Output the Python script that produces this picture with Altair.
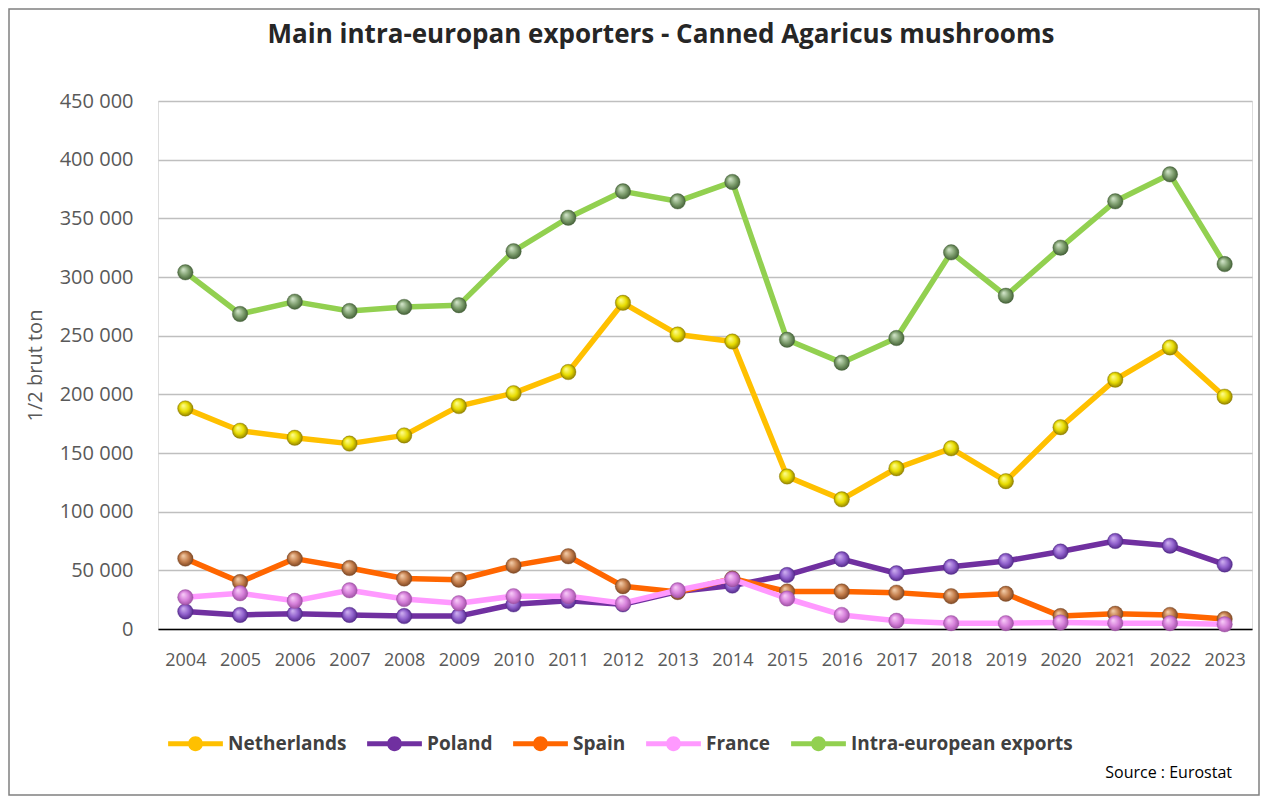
import altair as alt
import pandas as pd

years = ["2004", "2005", "2006", "2007", "2008", "2009", "2010", "2011", "2012", "2013",
         "2014", "2015", "2016", "2017", "2018", "2019", "2020", "2021", "2022", "2023"]
series_names = ["Netherlands", "Poland", "Spain", "France", "Intra-european exports"]
netherlands = [188000, 169000, 163000, 158000, 165000, 190000, 201000, 219000, 278000, 251000,
               245000, 130000, 110500, 137000, 154000, 126000, 172000, 212500, 240000, 198000]
poland = [15000, 12000, 13000, 12000, 11000, 11000, 21000, 24000, 21000, 32000,
          37000, 46000, 59500, 47500, 53000, 58000, 66000, 75000, 71000, 55000]
spain = [60000, 40000, 60000, 52000, 43000, 42000, 54000, 62000, 36500, 31500,
         43000, 32000, 32000, 31000, 28000, 30000, 11000, 13000, 12000, 8500]
france = [27000, 30500, 24000, 33000, 25500, 22000, 28000, 28000, 22000, 33000,
          42500, 26000, 12000, 7000, 5000, 5000, 5500, 5000, 5000, 4000]
intra = [304000, 268500, 279000, 271000, 274500, 276000, 322000, 350500, 373000, 364500,
         381000, 246500, 227000, 248000, 321000, 284000, 325000, 364500, 387500, 311000]
y_ticks = [0, 50000, 100000, 150000, 200000, 250000, 300000, 350000, 400000, 450000]

title_text = "Main intra-europan exporters - Canned Agaricus mushrooms"
source_text = "Source : Eurostat"

line_colors = ["#FFC000", "#7030A0", "#FF6600", "#FF99FF", "#92D050"]
marker_stops = [
    ["#FFFF9A", "#E8DC00", "#857400"],
    ["#D2B4F2", "#9060CC", "#4A2280"],
    ["#F6D2B0", "#C47E4C", "#74401E"],
    ["#FAD0FA", "#D680DA", "#964A9C"],
    ["#D8EAD0", "#7E9E6E", "#3C5830"],
]

values = [netherlands, poland, spain, france, intra]
rows = []
for name, vals in zip(series_names, values):
    for yr, v in zip(years, vals):
        rows.append({"Year": yr, "Series": name, "Value": v})
df = pd.DataFrame(rows)

W, H = 1094, 528

x_enc = alt.X("Year:O", scale=alt.Scale(type="point", padding=0.5),
              axis=alt.Axis(title=None, labelAngle=0, labelFontSize=18, labelColor="#595959",
                            labelFont="Open Sans", ticks=False, labelPadding=22,
                            domainColor="#000000", domainWidth=1.5, grid=False))
y_enc = alt.Y("Value:Q", scale=alt.Scale(domain=[0, 450000], nice=False),
              axis=alt.Axis(title="1/2 brut ton", values=y_ticks,
                            labelExpr="datum.value >= 1000 ? floor(datum.value/1000) + ' 000' : '0'",
                            labelFontSize=20, labelColor="#595959", labelFont="Open Sans",
                            labelPadding=25, ticks=False, domain=False,
                            gridColor="#BFBFBF", gridWidth=1.5,
                            titleFont="Open Sans", titleFontSize=20, titleFontWeight="normal",
                            titleColor="#595959", titlePadding=14))

legend_path = ("M-1,-0.09H1V0.09H-1Z "
               "M-0.27,0A0.27,0.27 0 1,1 0.27,0A0.27,0.27 0 1,1 -0.27,0Z")

color_scale = alt.Scale(domain=series_names, range=line_colors)

# invisible layer that only carries the legend (filled symbols)
legend_layer = alt.Chart(df).mark_point(filled=True, opacity=0, size=1).encode(
    x=x_enc, y=y_enc,
    color=alt.Color("Series:N", scale=color_scale, sort=series_names,
                    legend=alt.Legend(title=None, orient="none", direction="horizontal",
                                      legendX=10, legendY=615,
                                      symbolType=legend_path, symbolSize=3000,
                                      symbolStrokeWidth=0, symbolOpacity=1,
                                      labelFont="Open Sans", labelFontSize=19,
                                      labelFontWeight="bold", labelColor="#404040",
                                      labelOffset=5, columnPadding=20, labelLimit=400)),
)

layers = [legend_layer]
for i, name in enumerate(series_names):
    sub = alt.Chart(df).transform_filter(alt.datum.Series == name)
    line = sub.mark_line(strokeWidth=5.5, strokeJoin="round", stroke=line_colors[i]).encode(
        x=x_enc, y=y_enc)
    s = marker_stops[i]
    grad = alt.RadialGradient(
        gradient="radial",
        stops=[alt.GradientStop(color=s[0], offset=0),
               alt.GradientStop(color=s[1], offset=0.55),
               alt.GradientStop(color=s[2], offset=1)],
        x1=0.35, y1=0.3, r1=0, x2=0.5, y2=0.5, r2=0.55,
    )
    pts = sub.mark_point(shape="circle", filled=True, size=240, fill=grad, fillOpacity=1,
                         stroke=s[2], strokeWidth=0.6, strokeOpacity=0.6).encode(
        x=x_enc, y=y_enc)
    layers.append(line)
    layers.append(pts)

title = alt.Chart(pd.DataFrame({"t": [title_text]})).mark_text(
    align="center", baseline="middle", font="Open Sans", fontSize=26, fontWeight="bold",
    color="#262626"
).encode(text="t:N", x=alt.value(503), y=alt.value(-66))

source = alt.Chart(pd.DataFrame({"t": [source_text]})).mark_text(
    align="right", baseline="middle", font="Open Sans", fontSize=16, color="#000000"
).encode(text="t:N", x=alt.value(W - 20), y=alt.value(672))

frame = alt.Chart(pd.DataFrame({"t": [0]})).mark_rect(
    fill=None, stroke="#808080", strokeWidth=1.5
).encode(x=alt.value(-149), x2=alt.value(W + 7), y=alt.value(-92), y2=alt.value(H + 166))

chart = alt.layer(frame, *layers, title, source).properties(
    width=W, height=H,
    padding={"left": 150, "top": 93, "right": 8, "bottom": 167},
    autosize=alt.AutoSizeParams(type="none"),
).configure_view(stroke="#262626", strokeWidth=1.5).configure(background="white")

chart.save("out.html", embed_options={"renderer": "svg", "actions": False})
